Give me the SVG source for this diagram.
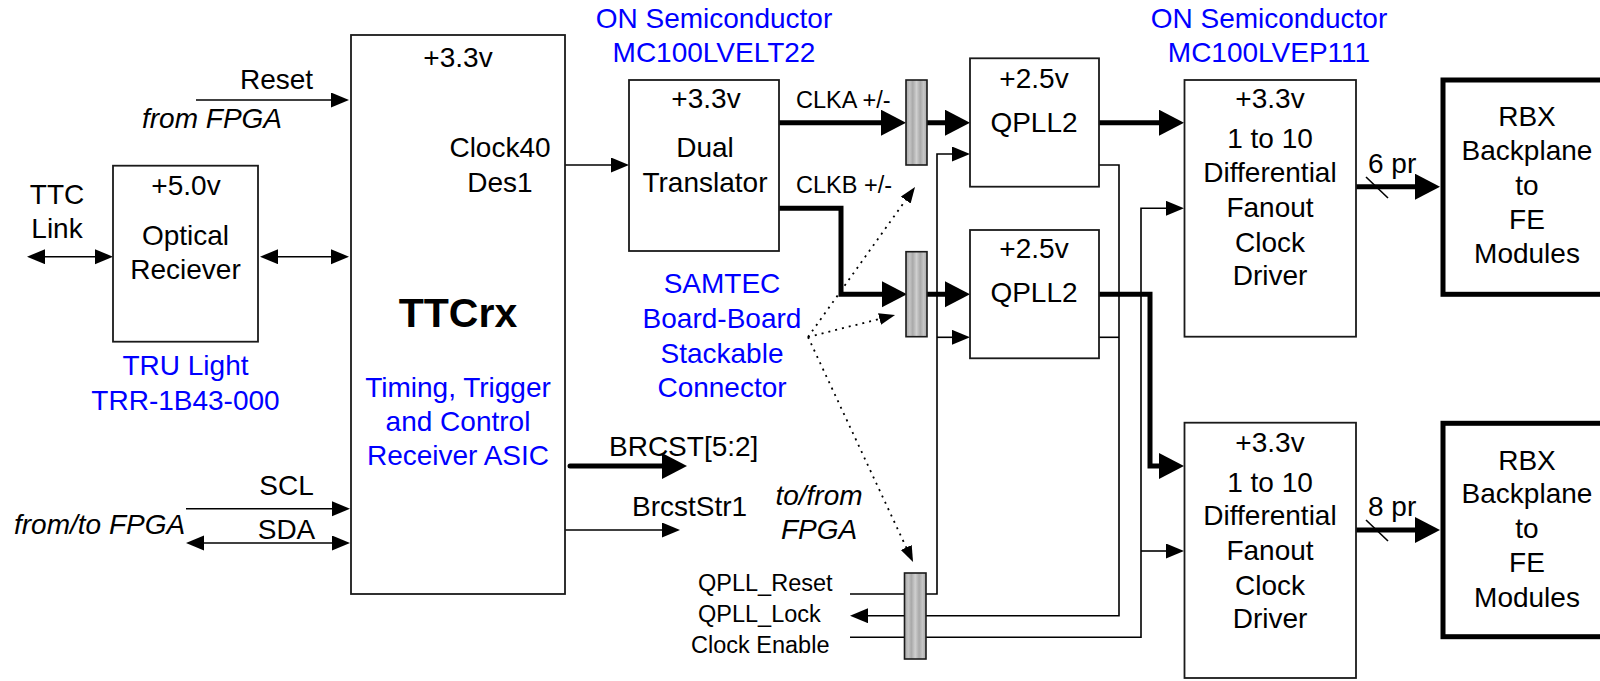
<svg xmlns="http://www.w3.org/2000/svg" width="1600" height="681" viewBox="0 0 1600 681">
<style>
  text { font-family: "Liberation Sans", Arial, sans-serif; font-size: 28px; fill: #000; }
  .c { text-anchor: middle; }
  .blue { fill: #0000FF; }
  .it { font-style: italic; }
  .sm { font-size: 23.5px; }
  .big { font-size: 41px; font-weight: bold; }
  .box { fill: #fff; stroke: #1a1a1a; stroke-width: 1.8; }
  .heavy { fill: #fff; stroke: #000; stroke-width: 5; }
  .bar { fill: url(#stripes); stroke: #1a1a1a; stroke-width: 1.6; }
  .thin { fill: none; stroke: #000; stroke-width: 1.6; }
  .thick { fill: none; stroke: #000; stroke-width: 5; stroke-linecap: round; stroke-linejoin: miter; }
  .dot { fill: none; stroke: #000; stroke-width: 1.8; stroke-dasharray: 2 5; }
</style>
<defs>
  <linearGradient id="stripes" x1="0" y1="0" x2="1" y2="0">
    <stop offset="0" stop-color="#a6a6a6"/>
    <stop offset="0.18" stop-color="#c4c4c4"/>
    <stop offset="0.32" stop-color="#a9a9a9"/>
    <stop offset="0.5" stop-color="#cfcfcf"/>
    <stop offset="0.68" stop-color="#a9a9a9"/>
    <stop offset="0.84" stop-color="#c6c6c6"/>
    <stop offset="1" stop-color="#a6a6a6"/>
  </linearGradient>
  <marker id="a" markerUnits="userSpaceOnUse" markerWidth="19" markerHeight="16" refX="1" refY="7.5" orient="auto-start-reverse">
    <path d="M0,0 L18,7.5 L0,15 z" fill="#000"/>
  </marker>
  <marker id="A" markerUnits="userSpaceOnUse" markerWidth="26" markerHeight="27" refX="1" refY="13" orient="auto">
    <path d="M0,0 L25,13 L0,26 z" fill="#000"/>
  </marker>
  <marker id="d" markerUnits="userSpaceOnUse" markerWidth="17" markerHeight="13" refX="1" refY="6" orient="auto">
    <path d="M0,0 L16,6 L0,12 z" fill="#000"/>
  </marker>
</defs>

<g id="connectors">
  <!-- left side -->
  <line class="thin" x1="196" y1="100" x2="332" y2="100" marker-end="url(#a)"/>
  <line class="thin" x1="44" y1="256.7" x2="96" y2="256.7" marker-start="url(#a)" marker-end="url(#a)"/>
  <line class="thin" x1="277" y1="256.7" x2="332" y2="256.7" marker-start="url(#a)" marker-end="url(#a)"/>
  <line class="thin" x1="186" y1="508.7" x2="333" y2="508.7" marker-end="url(#a)"/>
  <line class="thin" x1="203" y1="543" x2="333" y2="543" marker-start="url(#a)" marker-end="url(#a)"/>
  <!-- TTCrx outputs -->
  <line class="thin" x1="565" y1="165" x2="612" y2="165" marker-end="url(#a)"/>
  <line class="thick" x1="570" y1="466" x2="663" y2="466" marker-end="url(#A)"/>
  <line class="thin" x1="565" y1="530" x2="663" y2="530" marker-end="url(#a)"/>
  <!-- clocks to connectors and QPLLs -->
  <line class="thick" x1="779" y1="122.7" x2="882" y2="122.7" marker-end="url(#A)"/>
  <line class="thick" x1="927" y1="122.7" x2="946" y2="122.7" marker-end="url(#A)"/>
  <path class="thick" d="M779,208.3 H841 V294.3 H883" marker-end="url(#A)"/>
  <line class="thick" x1="927" y1="294.3" x2="946" y2="294.3" marker-end="url(#A)"/>
  <!-- QPLL reset -->
  <path class="thin" d="M850,594 H937 V154 H953" marker-end="url(#a)"/>
  <line class="thin" x1="937" y1="337.3" x2="953" y2="337.3" marker-end="url(#a)"/>
  <!-- QPLL lock -->
  <path class="thin" d="M1099,165 H1119 V615.7 H867" marker-end="url(#a)"/>
  <line class="thin" x1="1099" y1="337.3" x2="1119" y2="337.3"/>
  <!-- Clock enable -->
  <path class="thin" d="M850,637.3 H1141 V208.3 H1167" marker-end="url(#a)"/>
  <line class="thin" x1="1141" y1="551" x2="1167" y2="551" marker-end="url(#a)"/>
  <!-- QPLL outputs -->
  <line class="thick" x1="1099" y1="122.7" x2="1160" y2="122.7" marker-end="url(#A)"/>
  <path class="thick" d="M1099,294.3 H1150 V466 H1160" marker-end="url(#A)"/>
  <!-- fanout outputs -->
  <line class="thick" x1="1356" y1="186.7" x2="1416" y2="186.7" marker-end="url(#A)"/>
  <line class="thin" x1="1366" y1="177" x2="1388" y2="198"/>
  <line class="thick" x1="1356" y1="530" x2="1416" y2="530" marker-end="url(#A)"/>
  <line class="thin" x1="1366" y1="520" x2="1388" y2="541"/>
  <!-- SAMTEC pointers -->
  <line class="dot" x1="808" y1="337" x2="906.3" y2="199.2" marker-end="url(#d)"/>
  <line class="dot" x1="808" y1="337" x2="880.5" y2="318.7" marker-end="url(#d)"/>
  <line class="dot" x1="808" y1="337" x2="906.7" y2="548.4" marker-end="url(#d)"/>
</g>

<g id="ttcrx">
  <rect class="box" x="351" y="35" width="214" height="559"/>
  <text class="c" x="458" y="66.7">+3.3v</text>
  <text class="c" x="500" y="157">Clock40</text>
  <text class="c" x="500" y="192">Des1</text>
  <text class="c big" x="458" y="326.7">TTCrx</text>
  <text class="c blue" x="458" y="396.7">Timing, Trigger</text>
  <text class="c blue" x="458" y="430.7">and Control</text>
  <text class="c blue" x="458" y="465">Receiver ASIC</text>
</g>

<g id="optical-receiver">
  <rect class="box" x="113" y="165.7" width="145" height="176"/>
  <text class="c" x="186" y="195">+5.0v</text>
  <text class="c" x="185.5" y="245">Optical</text>
  <text class="c" x="185.5" y="279">Reciever</text>
  <text class="c blue" x="185.5" y="375">TRU Light</text>
  <text class="c blue" x="185.5" y="410">TRR-1B43-000</text>
</g>

<g id="left-labels">
  <text x="240" y="89">Reset</text>
  <text class="it" x="142" y="128">from FPGA</text>
  <text class="c" x="57" y="204">TTC</text>
  <text class="c" x="57" y="238">Link</text>
  <text class="c" x="286.5" y="495">SCL</text>
  <text class="c" x="286.5" y="539">SDA</text>
  <text class="it" x="14" y="534">from/to FPGA</text>
</g>

<g id="dual-translator">
  <rect class="box" x="629" y="80" width="150" height="171"/>
  <text class="c" x="706" y="108">+3.3v</text>
  <text class="c" x="705" y="157">Dual</text>
  <text class="c" x="705" y="192">Translator</text>
  <text class="c blue" x="714" y="28">ON Semiconductor</text>
  <text class="c blue" x="714" y="62">MC100LVELT22</text>
</g>

<g id="signal-labels">
  <text class="sm" x="796" y="108">CLKA +/-</text>
  <text class="sm" x="796" y="193">CLKB +/-</text>
  <text x="609" y="456">BRCST[5:2]</text>
  <text x="632" y="516">BrcstStr1</text>
  <text class="c it" x="819" y="505">to/from</text>
  <text class="c it" x="819" y="539">FPGA</text>
  <text class="sm" x="698" y="591">QPLL_Reset</text>
  <text class="sm" x="698" y="622">QPLL_Lock</text>
  <text class="sm" x="691" y="653">Clock Enable</text>
  <text x="1368" y="173">6 pr</text>
  <text x="1368" y="516">8 pr</text>
</g>

<g id="samtec-connectors">
  <rect class="bar" x="906" y="80" width="21" height="85"/>
  <rect class="bar" x="906" y="251.7" width="21" height="85"/>
  <rect class="bar" x="904.5" y="573" width="21.5" height="86"/>
  <text class="c blue" x="722" y="293">SAMTEC</text>
  <text class="c blue" x="722" y="328">Board-Board</text>
  <text class="c blue" x="722" y="363">Stackable</text>
  <text class="c blue" x="722" y="397">Connector</text>
</g>

<g id="qpll2-a">
  <rect class="box" x="970" y="58.3" width="129" height="128.4"/>
  <text class="c" x="1034" y="88">+2.5v</text>
  <text class="c" x="1034" y="131.7">QPLL2</text>
</g>

<g id="qpll2-b">
  <rect class="box" x="970" y="230" width="129" height="128.3"/>
  <text class="c" x="1034" y="258.3">+2.5v</text>
  <text class="c" x="1034" y="301.7">QPLL2</text>
</g>

<g id="fanout-a">
  <rect class="box" x="1184.5" y="80" width="171.5" height="256.7"/>
  <text class="c blue" x="1269" y="28">ON Semiconductor</text>
  <text class="c blue" x="1269" y="62">MC100LVEP111</text>
  <text class="c" x="1270" y="108">+3.3v</text>
  <text class="c" x="1270" y="148">1 to 10</text>
  <text class="c" x="1270" y="181.7">Differential</text>
  <text class="c" x="1270" y="216.7">Fanout</text>
  <text class="c" x="1270" y="251.7">Clock</text>
  <text class="c" x="1270" y="285">Driver</text>
</g>

<g id="fanout-b">
  <rect class="box" x="1184.5" y="422.7" width="171.5" height="255.3"/>
  <text class="c" x="1270" y="451.7">+3.3v</text>
  <text class="c" x="1270" y="491.7">1 to 10</text>
  <text class="c" x="1270" y="525">Differential</text>
  <text class="c" x="1270" y="560">Fanout</text>
  <text class="c" x="1270" y="595">Clock</text>
  <text class="c" x="1270" y="628.3">Driver</text>
</g>

<g id="rbx-a">
  <rect class="heavy" x="1443" y="80" width="200" height="214.3"/>
  <text class="c" x="1527" y="126">RBX</text>
  <text class="c" x="1527" y="160">Backplane</text>
  <text class="c" x="1527" y="195">to</text>
  <text class="c" x="1527" y="229">FE</text>
  <text class="c" x="1527" y="263">Modules</text>
</g>

<g id="rbx-b">
  <rect class="heavy" x="1443" y="423.3" width="200" height="213.4"/>
  <text class="c" x="1527" y="470">RBX</text>
  <text class="c" x="1527" y="503">Backplane</text>
  <text class="c" x="1527" y="538">to</text>
  <text class="c" x="1527" y="572">FE</text>
  <text class="c" x="1527" y="606.7">Modules</text>
</g>
</svg>
